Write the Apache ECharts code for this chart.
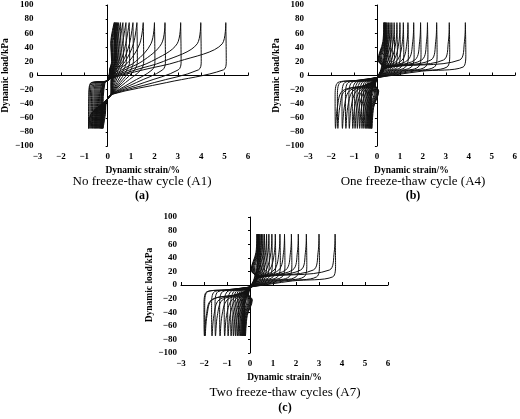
<!DOCTYPE html>
<html>
<head>
<meta charset="utf-8">
<script src="https://cdn.jsdelivr.net/npm/echarts@6/dist/echarts.min.js"></script>
<style>html,body{margin:0;padding:0;background:#fff}#chart{width:520px;height:419px}</style>
</head>
<body>
<div id="chart"></div>
<script>
// tip strains (%) of each load cycle at +75 / -75 kPa
const posTipsA1 = [0.28, 0.3, 0.32, 0.35, 0.38, 0.42, 0.47, 0.55, 0.65, 0.78, 0.92, 1.08, 1.25, 1.52, 2.0, 2.45, 3.12, 3.98, 5.05];
const negTipsA1 = [-0.2, -0.22, -0.24, -0.26, -0.28, -0.3, -0.33, -0.36, -0.4, -0.44, -0.48, -0.52, -0.56, -0.6, -0.65, -0.7, -0.75, -0.8, -0.82];
const posTipsA4 = [0.3, 0.32, 0.34, 0.37, 0.4, 0.44, 0.5, 0.57, 0.65, 0.75, 0.87, 1.0, 1.15, 1.35, 1.6, 1.9, 2.2, 2.6, 3.15, 3.85];
const negTipsA4 = [-0.22, -0.24, -0.26, -0.29, -0.32, -0.36, -0.4, -0.45, -0.5, -0.57, -0.65, -0.75, -0.85, -0.95, -1.05, -1.2, -1.35, -1.5, -1.7, -1.8];
const posTipsA7 = [0.3, 0.32, 0.34, 0.37, 0.4, 0.44, 0.5, 0.56, 0.63, 0.72, 0.82, 0.95, 1.1, 1.3, 1.5, 1.8, 2.1, 2.45, 3.0, 3.7];
const negTipsA7 = [-0.2, -0.22, -0.24, -0.27, -0.3, -0.33, -0.37, -0.42, -0.48, -0.55, -0.63, -0.72, -0.82, -0.95, -1.1, -1.3, -1.5, -1.65, -1.95, -1.98];
const xTicks = [-3, -2, -1, 0, 1, 2, 3, 4, 5, 6];
const yTicks = [-100, -80, -60, -40, -20, 0, 20, 40, 60, 80, 100];
const panelTitles = ['No freeze-thaw cycle (A1)', 'One freeze-thaw cycle (A4)', 'Two freeze-thaw cycles (A7)'];
const panelTags = ['(a)', '(b)', '(c)'];

// loop shape for panel (a): curved unloading, long gently rising reloading
function loopA(xp, xn) {
  return [
    [xp, 75], [xp - 0.15, 45], [xp * 0.6, 20], [xp * 0.3, 8], [0.05, -5], [0, -8],
    [xn * 0.5, -9], [xn + 0.08, -11], [xn + 0.01, -30], [xn, -75],
    [xn + 0.1, -55], [-0.05, -35], [0.15, -27], [xp * 0.5, -10], [xp - 0.1, 8], [xp + 0.02, 20], [xp, 75]
  ];
}
// loop shape for panels (b)/(c): steep unloading, nearly point-symmetric
function loopB(xp, xn) {
  return [
    [xp, 75], [xp + 0.02, 30], [xp - 0.1, 12], [xp * 0.5, 6], [0, -3],
    [xn * 0.5, -7], [xn + 0.1, -10], [xn - 0.02, -30], [xn, -75],
    [xn + 0.08, -45], [xn + 0.3, -22], [xn * 0.3, -14], [0, -5], [0.3, 10], [xp - 0.25, 22], [xp - 0.04, 48], [xp, 75]
  ];
}

const grids = [
  { left: 37, top: 5, width: 211, height: 141 },
  { left: 308, top: 5, width: 210, height: 141 },
  { left: 181, top: 217, width: 207, height: 136 }
];
const lblFont = { fontFamily: 'Liberation Serif', fontWeight: 'bold', fontSize: 9, color: '#000' };
const fmt = v => String(v).replace('-', '\u2212');

const xAxis = grids.map((g, i) => ({
  gridIndex: i, type: 'value', min: -3, max: 6, interval: 1,
  name: 'Dynamic strain/%', nameLocation: 'middle', nameGap: 20,
  nameTextStyle: Object.assign({}, lblFont, { fontSize: 9.5 }),
  axisLine: { lineStyle: { color: '#000', width: 1 } },
  axisTick: { inside: true, length: 3, lineStyle: { color: '#000' } },
  axisLabel: Object.assign({}, lblFont, { formatter: fmt, margin: 6 }),
  splitLine: { show: false }
}));
const yAxis = grids.map((g, i) => ({
  gridIndex: i, type: 'value', min: -100, max: 100, interval: 20,
  name: 'Dynamic load/kPa', nameLocation: 'middle', nameGap: 24,
  nameTextStyle: Object.assign({}, lblFont, { fontSize: 9.5 }),
  axisLine: { show: true, lineStyle: { color: '#000', width: 1 } },
  axisTick: { show: true, inside: false, length: 2, lineStyle: { color: '#000' } },
  axisLabel: Object.assign({}, lblFont, { formatter: fmt, margin: 4 }),
  splitLine: { show: false }
}));

const series = [];
function addLoops(pos, neg, shape, idx) {
  pos.forEach((xp, k) => {
    series.push({
      type: 'line', xAxisIndex: idx, yAxisIndex: idx, data: shape(xp, neg[k]),
      smooth: 0.35, symbol: 'none', silent: true,
      lineStyle: { color: '#111', width: 1 }
    });
  });
}
addLoops(posTipsA1, negTipsA1, loopA, 0);
addLoops(posTipsA4, negTipsA4, loopB, 1);
addLoops(posTipsA7, negTipsA7, loopB, 2);

const titleFont = 'Liberation Serif';
const graphic = [];
const titlePos = [[142, 182, 196], [413, 182, 196], [285, 393, 408]];
titlePos.forEach((p, i) => {
  graphic.push({ type: 'text', left: p[0], top: p[1], style: { text: panelTitles[i], font: '13px ' + titleFont, fill: '#000', textAlign: 'center', textVerticalAlign: 'middle' } });
  graphic.push({ type: 'text', left: p[0], top: p[2], style: { text: panelTags[i], font: 'bold 12px ' + titleFont, fill: '#000', textAlign: 'center', textVerticalAlign: 'middle' } });
});
graphic.forEach(g => { g.x = g.left; g.y = g.top; delete g.left; delete g.top; });

const chart = echarts.init(document.getElementById('chart'), null, { renderer: 'canvas' });
chart.setOption({
  animation: false,
  backgroundColor: '#fff',
  grid: grids,
  xAxis, yAxis, series, graphic
});
</script>
</body>
</html>
